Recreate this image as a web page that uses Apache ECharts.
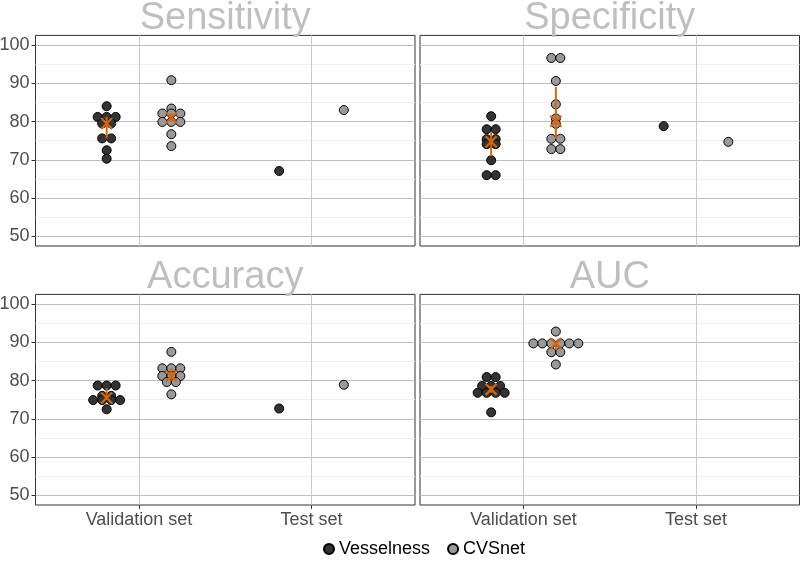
<!DOCTYPE html>
<html><head><meta charset="utf-8">
<script src="https://cdn.jsdelivr.net/npm/echarts@6/dist/echarts.min.js"></script>
<style>html,body{margin:0;padding:0;background:#fff}#c{width:800px;height:567px}</style>
</head><body><div id="c"></div>
<script>
const panels = ['Sensitivity', 'Specificity', 'Accuracy', 'AUC'];
const categories = ['Validation set', 'Test set'];
const groups = ['Vesselness', 'CVSnet'];
const yTicks = [50, 60, 70, 80, 90, 100];
const yMinorTicks = [55, 65, 75, 85, 95];

// validation-set (cross-validation fold) values
const sensValVessel = [84.0, 81.2, 81.2, 81.2, 79.5, 79.5, 75.6, 75.6, 72.5, 70.3];
const sensValCVS    = [90.8, 83.4, 82.1, 82.1, 82.1, 79.9, 79.9, 79.9, 76.7, 73.6];
const specValVessel = [81.4, 78.0, 78.0, 75.4, 75.4, 74.1, 74.1, 69.9, 66.0, 66.0];
const specValCVS    = [96.6, 96.6, 90.6, 84.5, 80.8, 79.4, 75.5, 75.5, 72.8, 72.8];
const accValVessel  = [78.7, 78.7, 78.7, 76.0, 76.0, 74.9, 74.9, 74.9, 74.9, 72.5];
const accValCVS     = [87.5, 83.2, 83.2, 83.2, 81.2, 81.2, 81.2, 79.6, 79.6, 76.4];
const aucValVessel  = [80.9, 80.9, 78.6, 78.6, 78.6, 76.8, 76.8, 76.8, 76.8, 71.7];
const aucValCVS     = [92.8, 89.7, 89.7, 89.7, 89.7, 89.7, 89.7, 87.4, 87.4, 84.2];
// test-set values (Sensitivity, Specificity, Accuracy, AUC)
const testVessel = [67.1, 78.8, 72.7, null];
const testCVS    = [83.0, 74.7, 78.9, null];

const validation = [
  [sensValVessel, sensValCVS],
  [specValVessel, specValCVS],
  [accValVessel, accValCVS],
  [aucValVessel, aucValCVS]
];
const tests = [testVessel, testCVS];

const FONT = 'Liberation Sans, Arial, sans-serif';
const ORANGE = '#d4660b';
const FILLS = ['#333333', '#999999'];
const GRID_W = 379.5, GRID_H = 210.6;
const gridPos = [[35.5, 35.4], [420, 35.4], [35.5, 294.4], [420, 294.4]];
const X_MIN = 0.4, X_MAX = 2.6, Y_MIN = 47.5, Y_MAX = 102.5;
const DOT = 9, DODGE = 0.1875;
const pxPerX = GRID_W / (X_MAX - X_MIN);

function quantile(sorted, p) {
  const h = (sorted.length - 1) * p, lo = Math.floor(h), hi = Math.ceil(h);
  return sorted[lo] + (h - lo) * (sorted[hi] - sorted[lo]);
}
function swarm(vals, center) {
  const rows = {};
  vals.forEach(v => { const k = v.toFixed(2); (rows[k] = rows[k] || []).push(v); });
  const out = [];
  Object.values(rows).forEach(r => {
    const n = r.length;
    r.forEach((v, i) => out.push([center + (i - (n - 1) / 2) * DOT / pxPerX, v]));
  });
  return out;
}

const grid = [], xAxis = [], yAxis = [], series = [], graphic = [];
panels.forEach((name, p) => {
  const bottom = p >= 2, left = p % 2 === 0;
  grid.push({left: gridPos[p][0], top: gridPos[p][1], width: GRID_W, height: GRID_H,
    containLabel: false, outerBoundsMode: 'none',
    show: true, borderColor: '#333333', borderWidth: 1, backgroundColor: 'transparent'});
  xAxis.push({gridIndex: p, type: 'value', min: X_MIN, max: X_MAX,
    axisLine: {show: false},
    axisTick: {show: bottom, customValues: [1, 2], length: 4, lineStyle: {color: '#333333'}},
    axisLabel: {show: bottom, customValues: [1, 2], formatter: v => categories[Math.round(v) - 1] || '',
      color: '#4d4d4d', fontSize: 18, fontFamily: FONT, margin: 6},
    splitLine: {show: true, lineStyle: {color: '#c9c9c9', width: 1}}});
  yAxis.push({gridIndex: p, type: 'value', min: Y_MIN, max: Y_MAX,
    axisLine: {show: false},
    axisTick: {show: left, customValues: yTicks, length: 4, lineStyle: {color: '#333333'}},
    axisLabel: {show: left, customValues: yTicks, color: '#4d4d4d', fontSize: 18, fontFamily: FONT, margin: 6},
    splitLine: {show: true, lineStyle: {color: '#bdbdbd', width: 1}}});
  graphic.push({type: 'text', x: gridPos[p][0] + GRID_W / 2, y: gridPos[p][1] - 16.4,
    style: {text: name, fill: '#bfbfbf', font: '38px ' + FONT, align: 'center', verticalAlign: 'middle',
      textAlign: 'center', textVerticalAlign: 'middle'}});
});
panels.forEach((name, p) => {
  yAxis.push({gridIndex: p, type: 'value', min: Y_MIN, max: Y_MAX, position: 'left',
    axisLine: {show: false}, axisLabel: {show: false},
    axisTick: {show: false, customValues: yMinorTicks},
    splitLine: {show: true, lineStyle: {color: '#efefef', width: 1}}});
});

panels.forEach((name, p) => {
  const summary = [];
  groups.forEach((g, gi) => {
    const off = gi === 0 ? -DODGE : DODGE;
    const vals = validation[p][gi];
    const data = swarm(vals, 1 + off);
    if (tests[gi][p] != null) data.push([2 + off, tests[gi][p]]);
    series.push({name: g, type: 'scatter', xAxisIndex: p, yAxisIndex: p, data: data,
      symbol: 'circle', symbolSize: DOT, z: 3, silent: true,
      itemStyle: {color: FILLS[gi], borderColor: '#000000', borderWidth: 1, opacity: 1}});
    const s = vals.slice().sort((a, b) => a - b);
    summary.push([1 + off, quantile(s, 0.5), quantile(s, 0.25), quantile(s, 0.75)]);
  });
  series.push({type: 'custom', xAxisIndex: p, yAxisIndex: p, z: 5, silent: true, data: summary,
    encode: {x: 0, y: 1},
    renderItem: (params, api) => {
      const x = api.value(0);
      const pm = api.coord([x, api.value(1)]);
      const pl = api.coord([x, api.value(2)]);
      const ph = api.coord([x, api.value(3)]);
      const k = 5.5;
      return {type: 'group', children: [
        {type: 'line', shape: {x1: pl[0], y1: pl[1], x2: ph[0], y2: ph[1]}, style: {stroke: ORANGE, lineWidth: 2}},
        {type: 'line', shape: {x1: pm[0] - k, y1: pm[1] - k, x2: pm[0] + k, y2: pm[1] + k}, style: {stroke: ORANGE, lineWidth: 2.2}},
        {type: 'line', shape: {x1: pm[0] - k, y1: pm[1] + k, x2: pm[0] + k, y2: pm[1] - k}, style: {stroke: ORANGE, lineWidth: 2.2}}
      ]};
    }});
});

const chart = echarts.init(document.getElementById('c'), null, {renderer: 'canvas'});
chart.setOption({
  animation: false,
  backgroundColor: '#ffffff',
  grid, xAxis, yAxis, series, graphic,
  legend: {data: groups, left: 318, top: 535, icon: 'circle', itemWidth: 10, itemHeight: 10,
    itemGap: 17, textStyle: {fontSize: 18, fontFamily: FONT, color: '#000000'}, selectedMode: false}
});
</script></body></html>
